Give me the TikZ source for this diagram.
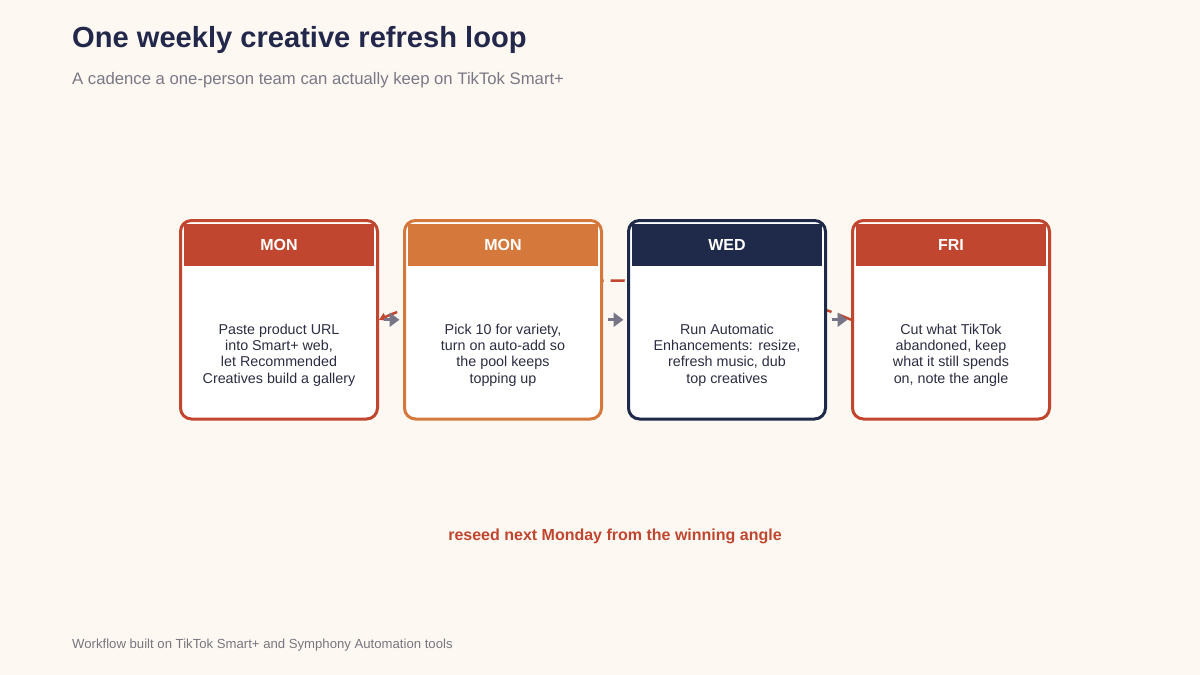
\documentclass[tikz,border=0pt]{standalone}
\usepackage{fontspec}
\setmainfont{Liberation Sans}
\usetikzlibrary{arrows.meta}
\definecolor{bgc}{HTML}{FDF8F2}
\definecolor{brick}{HTML}{C1462F}
\definecolor{amber}{HTML}{D4783C}
\definecolor{navy}{HTML}{1F2A4B}
\definecolor{titlec}{HTML}{23284A}
\definecolor{subc}{HTML}{7A7885}
\definecolor{ink}{HTML}{2B2D42}
\definecolor{arrowgray}{HTML}{787589}
\definecolor{footc}{HTML}{77767F}
\pgfdeclarelayer{back}
\pgfsetlayers{back,main}
\begin{document}
\begin{tikzpicture}[x=1pt,y=-1pt,
  card/.style={draw=#1, fill=white, line width=3pt, rounded corners=11pt, minimum width=197pt, minimum height=198.5pt, inner sep=0pt},
  band/.style={fill=#1, minimum width=190pt, minimum height=42pt, inner sep=0pt},
  daylbl/.style={text=white, font=\bfseries\fontsize{16}{19}\selectfont, anchor=base, inner sep=0pt},
  body/.style={text=ink, font=\fontsize{14.3}{16.4}\selectfont, align=center, anchor=base, inner sep=0pt},
  flow/.style={draw=arrowgray, line width=3pt, -{Triangle[length=10pt,width=14pt]}, shorten <=5pt, shorten >=3.5pt},
  loopline/.style={draw=brick, line width=2.5pt, dash pattern=on 14pt off 7pt, dash phase=0pt, -{Triangle[length=7pt,width=8pt]}}
]
\begin{pgfonlayer}{back}
\fill[bgc] (0,0) rectangle (1200,675);
\end{pgfonlayer}
\useasboundingbox (0,0) rectangle (1200,675);

% title block
\node[anchor=base west, inner sep=0pt, text=titlec, font=\bfseries\fontsize{29.1}{34}\selectfont] (title) at (72,47) {One weekly creative refresh loop};
\node[anchor=base west, inner sep=0pt, text=subc, font=\fontsize{16.7}{20}\selectfont] (subtitle) at (72,84) {A cadence a one-person team can actually keep on TikTok Smart+};

% cards
\node[card=brick] (b1) at (279,319.75) {};
\node[card=amber] (b2) at (503,319.75) {};
\node[card=navy]  (b3) at (727,319.75) {};
\node[card=brick] (b4) at (951,319.75) {};

\node[band=brick] (h1) at (279,245) {};
\node[band=amber] (h2) at (503,245) {};
\node[band=navy]  (h3) at (727,245) {};
\node[band=brick] (h4) at (951,245) {};

\node[daylbl] (d1) at (279,250) {MON};
\node[daylbl] (d2) at (503,250) {MON};
\node[daylbl] (d3) at (727,250) {WED};
\node[daylbl] (d4) at (951,250) {FRI};

\node[body] (t1) at (279,383.3) {Paste product URL\\into Smart+ web,\\let Recommended\\Creatives build a gallery};
\node[body] (t2) at (503,383.3) {Pick 10 for variety,\\turn on auto-add so\\the pool keeps\\topping up};
\node[body] (t3) at (727,383.3) {Run Automatic\\Enhancements: resize,\\refresh music, dub\\top creatives};
\node[body] (t4) at (951,383.3) {Cut what TikTok\\abandoned, keep\\what it still spends\\on, note the angle};

% loop-back curve (behind the cards)
\begin{pgfonlayer}{back}
\draw[loopline] (b4.west) .. controls (735,268) and (495,268) .. (b1.east);
\end{pgfonlayer}

% forward arrows
\draw[flow] (b1.east) -- (b2.west);
\draw[flow] (b2.east) -- (b3.west);
\draw[flow] (b3.east) -- (b4.west);

% loop label
\node[anchor=base, inner sep=0pt, text=brick, font=\bfseries\fontsize{16}{19}\selectfont] (looplbl) at (615,540) {reseed next Monday from the winning angle};

% footer
\node[anchor=base west, inner sep=0pt, text=footc, font=\fontsize{13.15}{16}\selectfont] (footer) at (72,648) {Workflow built on TikTok Smart+ and Symphony Automation tools};
\end{tikzpicture}
\end{document}
